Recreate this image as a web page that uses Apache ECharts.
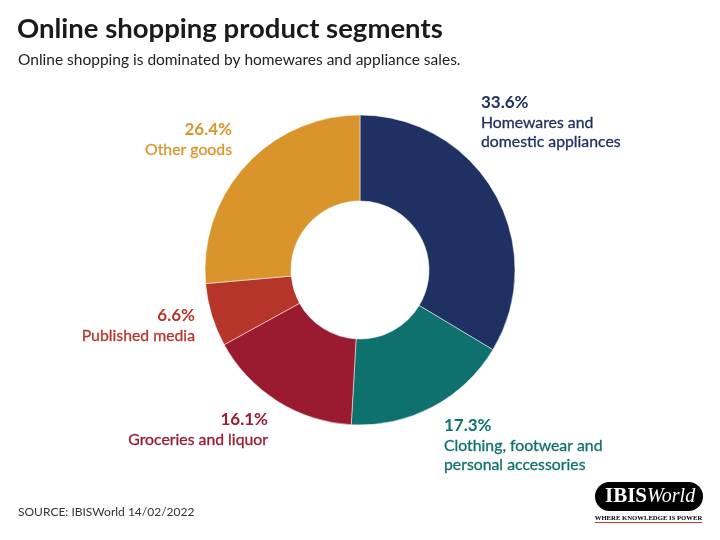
<!DOCTYPE html>
<html>
<head>
<meta charset="utf-8">
<script src="https://cdn.jsdelivr.net/npm/echarts@6/dist/echarts.min.js"></script>
<style>
html,body{margin:0;padding:0;background:#fff;}
#chart{width:720px;height:540px;}
</style>
</head>
<body>
<div id="chart"></div>
<script>
var categories = [
  "Homewares and\ndomestic appliances",
  "Clothing, footwear and\npersonal accessories",
  "Groceries and liquor",
  "Published media",
  "Other goods"
];
var values = [33.6, 17.3, 16.1, 6.6, 26.4];
var colors = ["#1f3162", "#0f716d", "#9a1a2f", "#b6352a", "#d9952b"];

var labelPos = [
  {x: 481, y: 93, align: "left"},
  {x: 444, y: 416, align: "left"},
  {x: 268, y: 410, align: "right"},
  {x: 195, y: 306, align: "right"},
  {x: 232, y: 120, align: "right"}
];

var FONT = "Lato, 'Noto Sans', sans-serif";

var chart = echarts.init(document.getElementById("chart"), null, {renderer: "canvas"});
var data = categories.map(function (c, i) {
  return {
    name: c,
    value: values[i],
    itemStyle: {color: colors[i]},
    label: {color: colors[i], align: labelPos[i].align,
      rich: {
        p: {fontSize: 17, fontWeight: "bold", color: colors[i], fontFamily: FONT, lineHeight: 20, align: labelPos[i].align},
        n: {fontSize: 15.8, fontWeight: "normal", color: colors[i], fontFamily: FONT, lineHeight: 19, align: labelPos[i].align, textBorderColor: colors[i], textBorderWidth: 0.3}
      }
    }
  };
});

chart.setOption({
  animation: false,
  backgroundColor: "#ffffff",
  title: [
    {text: "Online shopping product segments", left: 17, top: 15, padding: 0,
     textStyle: {fontFamily: FONT, fontSize: 27.5, fontWeight: "bold", color: "#1a1a1a"}},
    {text: "Online shopping is dominated by homewares and appliance sales.", left: 18, top: 52, padding: 0,
     textStyle: {fontFamily: FONT, fontSize: 15.5, fontWeight: "normal", color: "#222"}},
    {text: "SOURCE: IBISWorld 14/02/2022", left: 18, top: 506, padding: 0,
     textStyle: {fontFamily: FONT, fontSize: 12, fontWeight: "normal", color: "#333"}}
  ],
  series: [{
    type: "pie",
    center: [360, 270],
    radius: [69, 155],
    startAngle: 90,
    clockwise: true,
    silent: true,
    itemStyle: {borderColor: "#ffffff", borderWidth: 0.5},
    label: {
      show: true,
      position: "outside",
      formatter: function (p) {
        var lines = p.name.split("\n").map(function (l) { return "{n|" + l + "}"; });
        return "{p|" + p.value.toFixed(1) + "%}\n" + lines.join("\n");
      }
    },
    labelLine: {show: false},
    labelLayout: function (params) {
      var lp = labelPos[params.dataIndex];
      return {x: lp.x, y: lp.y, align: lp.align, verticalAlign: "top", hideOverlap: false, moveOverlap: false};
    },
    data: data
  }],
  graphic: [
    {type: "rect", shape: {x: 595, y: 482, width: 108, height: 29, r: 14.5}, style: {fill: "#000"}},
    {type: "text", style: {x: 647, y: 497, text: "IBIS", fill: "#fff", font: "bold 21px 'Liberation Serif', serif", align: "right", verticalAlign: "middle"}},
    {type: "text", style: {x: 647, y: 497, text: "World", fill: "#fff", font: "italic 20px 'Liberation Serif', serif", align: "left", verticalAlign: "middle"}},
    {type: "text", style: {x: 648.5, y: 518, text: "WHERE KNOWLEDGE IS POWER", fill: "#000", font: "bold 6.7px 'Liberation Serif', serif", align: "center", verticalAlign: "middle"}},
    {type: "line", shape: {x1: 595, y1: 522.5, x2: 702, y2: 522.5}, style: {stroke: "#c8362b", lineWidth: 1}}
  ]
});
</script>
</body>
</html>
